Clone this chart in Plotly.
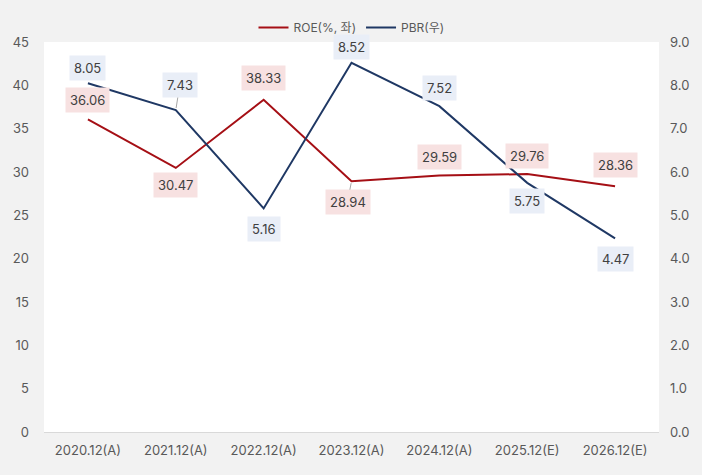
import plotly.graph_objects as go

categories = ["2020.12(A)", "2021.12(A)", "2022.12(A)", "2023.12(A)", "2024.12(A)", "2025.12(E)", "2026.12(E)"]
roe = [36.06, 30.47, 38.33, 28.94, 29.59, 29.76, 28.36]
pbr = [8.05, 7.43, 5.16, 8.52, 7.52, 5.75, 4.47]
roe_label_shift = [19, -17, 22, "arrow", 19, 18, 21]
pbr_label_shift = [15, "arrow", -21, 16, 18, -18, -21]

RED = "#a50f15"
NAVY = "#1f3864"
TXT = "#595959"
FONT = "Inter, Noto Sans CJK KR, sans-serif"

fig = go.Figure()
fig.add_trace(go.Scatter(x=categories, y=roe, mode="lines", name="ROE(%, 좌)",
                         line=dict(color=RED, width=2), yaxis="y"))
fig.add_trace(go.Scatter(x=categories, y=pbr, mode="lines", name="PBR(우)",
                         line=dict(color=NAVY, width=2), yaxis="y2"))

anns = []
for c, v, s in zip(categories, roe, roe_label_shift):
    base = dict(x=c, y=v, xref="x", yref="y", text=f"{v:.2f}",
                font=dict(size=13, color="#404040", family=FONT),
                bgcolor="#f7e1e1", borderpad=4)
    if s == "arrow":
        base.update(showarrow=True, arrowhead=0, arrowwidth=1, arrowcolor="#a6a6a6",
                    ax=-4, ay=21, standoff=2)
    else:
        base.update(showarrow=False, yshift=s)
    anns.append(base)
for c, v, s in zip(categories, pbr, pbr_label_shift):
    base = dict(x=c, y=v, xref="x", yref="y2", text=f"{v:.2f}",
                font=dict(size=13, color="#404040", family=FONT),
                bgcolor="#e9eef7", borderpad=4)
    if s == "arrow":
        base.update(showarrow=True, arrowhead=0, arrowwidth=1, arrowcolor="#a6a6a6",
                    ax=4, ay=-25, standoff=2)
    else:
        base.update(showarrow=False, yshift=s)
    anns.append(base)

fig.update_layout(
    width=702, height=475,
    margin=dict(l=43, r=42, t=42, b=43),
    paper_bgcolor="#f2f2f2", plot_bgcolor="#ffffff",
    font=dict(family=FONT, size=13, color=TXT),
    showlegend=True,
    legend=dict(orientation="h", x=0.5, xanchor="center",
                y=1.0, yanchor="bottom",
                font=dict(size=12, color=TXT), bgcolor="rgba(0,0,0,0)"),
    xaxis=dict(type="category", range=[-0.5, 6.5], showgrid=False, showline=True,
               linecolor="#d9d9d9", linewidth=1, ticks="", tickfont=dict(size=13, color=TXT),
               ticklabelstandoff=6),
    yaxis=dict(range=[0, 45], dtick=5, showgrid=False, zeroline=False, showline=False,
               tickfont=dict(size=13, color=TXT), ticklabelstandoff=14),
    yaxis2=dict(range=[0, 9], dtick=1, tickformat=".1f", overlaying="y", side="right",
                showgrid=False, zeroline=False, showline=False,
                tickfont=dict(size=13, color=TXT), ticklabelstandoff=10),
    annotations=anns,
)
fig.write_html("out.html", config={"displayModeBar": False},
               post_script="document.body.style.margin='0';document.body.style.overflow='hidden';")
